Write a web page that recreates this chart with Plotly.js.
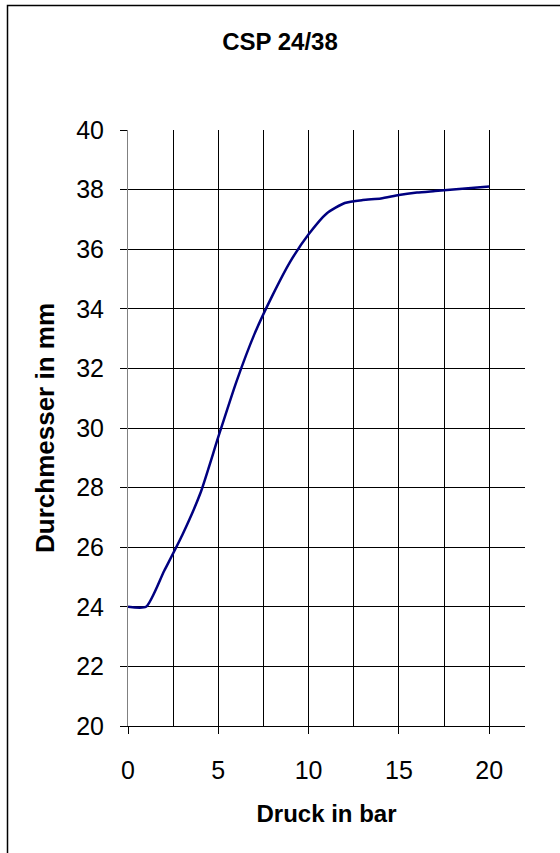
<!DOCTYPE html>
<html>
<head>
<meta charset="utf-8">
<script src="https://cdn.plot.ly/plotly-3.0.1.min.js"></script>
<style>
html,body{margin:0;padding:0;background:#fff;}
#chart{width:560px;height:853px;}
</style>
</head>
<body>
<div id="chart"></div>
<script>
// Data
var druckBar = [0, 1, 2, 3, 4, 5, 6, 7, 8, 9, 10, 11, 12, 13, 14, 15, 16, 17, 18, 19, 20];
var durchmesserMm = [24.0, 24.0, 25.2, 26.4, 27.8, 29.7, 31.55, 33.15, 34.45, 35.6, 36.5, 37.2, 37.55, 37.65, 37.7, 37.82, 37.9, 37.95, 38.0, 38.05, 38.1];
var chartTitle = "CSP 24/38";
var xTitle = "Druck in bar";
var yTitle = "Durchmesser in mm";

var W = 560, H = 853;
var mL = 128, mR = 35, mT = 130, mB = 127;
var pw = W - mL - mR, ph = H - mT - mB;
function px(x){ return (x - mL) / pw; }
function py(y){ return 1 - (y - mT) / ph; }

var fontFam = "Liberation Sans, Arial, sans-serif";

var trace = {
  x: druckBar,
  y: durchmesserMm,
  type: "scatter",
  mode: "lines",
  line: {color: "#000080", width: 2.5, shape: "spline", smoothing: 0.6},
  hoverinfo: "x+y"
};

var layout = {
  width: W, height: H,
  margin: {l: mL, r: mR, t: mT, b: mB, pad: 0},
  paper_bgcolor: "#ffffff",
  plot_bgcolor: "#ffffff",
  showlegend: false,
  title: {
    text: "<b>" + chartTitle + "</b>",
    font: {family: fontFam, size: 24, color: "#000"},
    x: 0.5, xref: "container", xanchor: "center",
    y: 1 - 42/H, yref: "container", yanchor: "middle"
  },
  xaxis: {
    range: [0, 21.98],
    dtick: 5, tick0: 0,
    ticks: "outside", ticklen: 7, tickcolor: "#000", tickwidth: 1,
    showgrid: true, gridcolor: "#000", gridwidth: 1,
    minor: {dtick: 2.5, showgrid: true, gridcolor: "#000", gridwidth: 1, ticks: ""},
    showline: true, linecolor: "#000", linewidth: 1,
    zeroline: false,
    ticklabelstandoff: 15,
    tickfont: {family: fontFam, size: 25, color: "#000"},
    title: {text: "<b>" + xTitle + "</b>", font: {family: fontFam, size: 24, color: "#000"}, standoff: 22},
    fixedrange: true
  },
  yaxis: {
    range: [20, 40],
    dtick: 2, tick0: 20,
    ticks: "outside", ticklen: 7, tickcolor: "#000", tickwidth: 1,
    showgrid: true, gridcolor: "#000", gridwidth: 1,
    showline: true, linecolor: "#808080", linewidth: 1,
    zeroline: false,
    ticklabelstandoff: 11,
    tickfont: {family: fontFam, size: 25, color: "#000"},
    title: {text: "<b>" + yTitle + "</b>", font: {family: fontFam, size: 26, color: "#000"}, standoff: 14},
    fixedrange: true
  },
  shapes: [{
    type: "path",
    xref: "paper", yref: "paper",
    path: "M " + px(7.5) + " " + py(H + 5) + " L " + px(7.5) + " " + py(5.5) + " L " + px(W + 5) + " " + py(5.5),
    line: {color: "#000", width: 1.5},
    layer: "above"
  }]
};

Plotly.newPlot("chart", [trace], layout, {displayModeBar: false, staticPlot: true});
</script>
</body>
</html>
